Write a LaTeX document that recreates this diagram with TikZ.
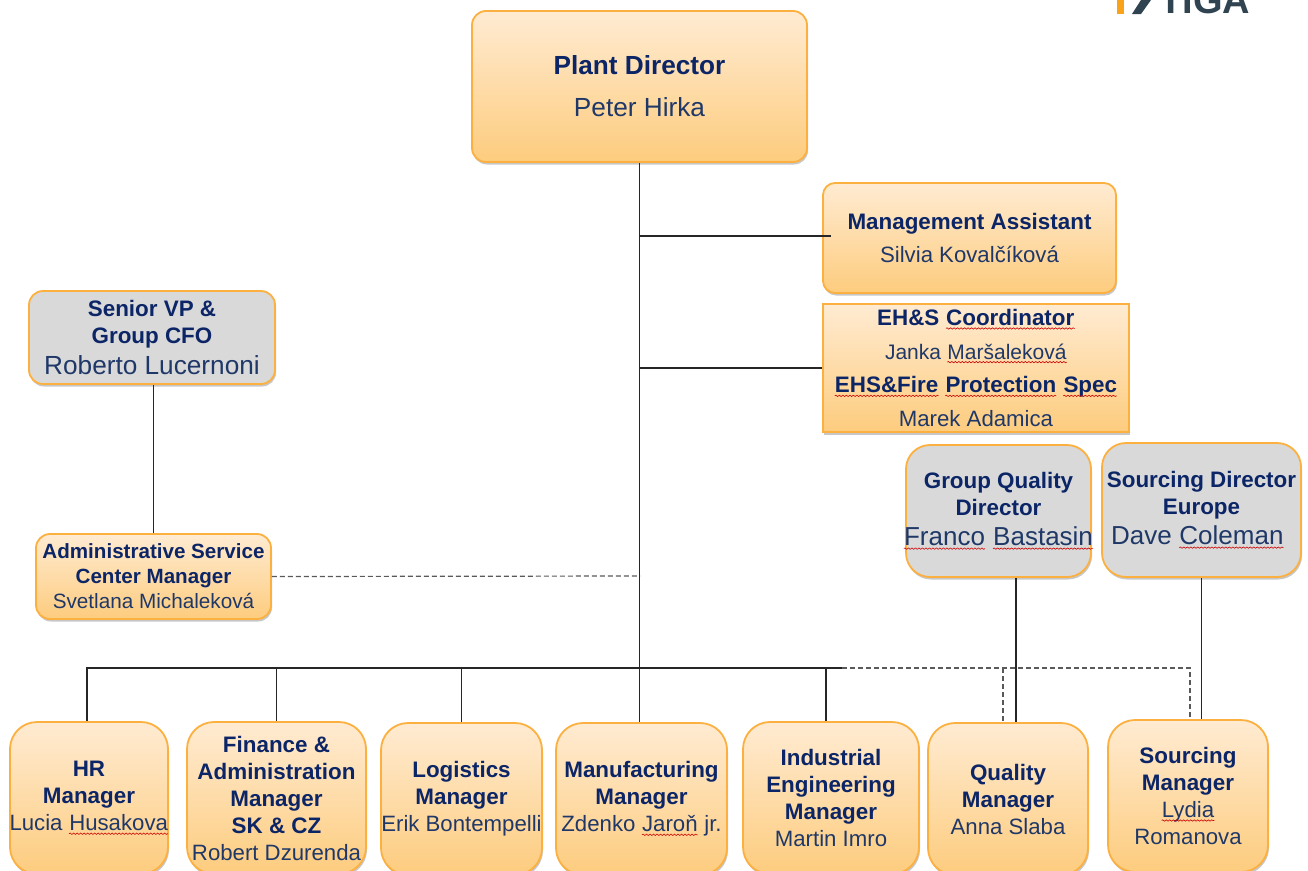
\documentclass[tikz,border=0pt]{standalone}
\usepackage{fontspec}
\setmainfont{Liberation Sans}
\usetikzlibrary{shadows, decorations.pathmorphing}
\definecolor{titlecol}{HTML}{0B2566}
\definecolor{namecol}{HTML}{1F3868}
\definecolor{edgecol}{HTML}{FBB040}
\definecolor{boxtop}{HTML}{FFEBD2}
\definecolor{boxbot}{HTML}{FDCC7E}
\definecolor{greycol}{HTML}{D9D9D9}
\definecolor{logocol}{HTML}{2F4350}
\definecolor{logoorange}{HTML}{F9A31A}
\tikzset{
  basebox/.style={draw=edgecol, line width=1.8pt, text=namecol, inner sep=0pt, align=center,
    drop shadow={shadow xshift=1pt, shadow yshift=-2.5pt, fill=black, opacity=0.22}},
  orangebox/.style={basebox, top color=boxtop, bottom color=boxbot},
  greybox/.style={basebox, fill=greycol},
  mgrbox/.style={orangebox, rounded corners=27pt, minimum height=152pt,
    font=\fontsize{22.4}{27}\selectfont},
  tie/.style={line width=1.2pt, black!85},
  dottie/.style={line width=1.2pt, black!65, dashed, dash pattern=on 5pt off 3pt}
}
\newcommand{\ttl}[1]{{\bfseries\color{titlecol}#1}}
\newcommand{\nm}[2][22.2]{{\fontsize{#1}{#1}\selectfont #2}}
\newcommand{\spell}[1]{\tikz[baseline=(w.base), sharp corners]{
  \node[inner sep=0pt, minimum width=0pt, minimum height=0pt] (w) {#1};
  \draw[red!80!black, line width=0.6pt, decorate, decoration={snake, amplitude=0.7pt, segment length=3.5pt}]
    ([yshift=-3pt]w.base west) -- ([yshift=-3pt]w.base east);}}

\begin{document}
\begin{tikzpicture}[x=1pt, y=-1pt]
  \useasboundingbox (0,0) rectangle (1308,870);
  \clip (0,0) rectangle (1308,870);

  % Logo in the corner, cut by the page edge
  \fill[logoorange] (1117,0) rectangle (1124,14);
  \fill[logocol] (1132,14) -- (1141,14) -- (1151,0) -- (1141,0) -- cycle;
  \node[anchor=base, inner sep=0pt, text=logocol] (logo) at (1205,13)
    {\fontsize{38}{38}\selectfont\bfseries TIGA};

  % Top of the chart
  \node[orangebox, rounded corners=14pt, minimum width=335pt, minimum height=151pt,
    font=\fontsize{26.2}{43}\selectfont] (plant) at (639.5,86.5)
    {\ttl{Plant Director}\\[-1pt]Peter Hirka};
  \node[orangebox, rounded corners=12pt, minimum width=293pt, minimum height=110pt,
    font=\fontsize{22.4}{33}\selectfont] (assist) at (969.5,238)
    {\ttl{Management Assistant}\\\nm{Silvia Kovalčíková}};
  \node[orangebox, minimum width=306pt, minimum height=128pt,
    font=\fontsize{22.4}{33.7}\selectfont] (ehs) at (976,368)
    {\ttl{EH\&S \spell{Coordinator}}\\\nm[21]{Janka \spell{Maršaleková}}\\
     \ttl{\spell{EHS\&Fire} \spell{Protection} \spell{Spec}}\\\nm{Marek Adamica}};

  % Left side
  \node[greybox, rounded corners=14pt, minimum width=246pt, minimum height=93pt,
    font=\fontsize{22.4}{27}\selectfont] (cfo) at (152,337.5)
    {\ttl{Senior VP \&}\\\ttl{Group CFO}\\[4pt]\nm[26.2]{Roberto Lucernoni}};
  \node[orangebox, rounded corners=14pt, minimum width=235pt, minimum height=85pt,
    font=\fontsize{20.6}{25}\selectfont] (admin) at (153.5,576.5)
    {\ttl{Administrative Service}\\\ttl{Center Manager}\\\nm[20.7]{Svetlana Michaleková}};

  % Directors on the right
  \node[greybox, rounded corners=24pt, minimum width=185pt, minimum height=132pt,
    font=\fontsize{22.4}{26.5}\selectfont] (quality dir) at (998.5,511)
    {\ttl{Group Quality}\\\ttl{Director}\\[4pt]\clap{\nm[26]{\spell{Franco} \spell{Bastasin}}}};
  \node[greybox, rounded corners=24pt, minimum width=199pt, minimum height=134pt,
    font=\fontsize{22.4}{26.5}\selectfont] (sourcing dir) at (1201.5,510)
    {\ttl{Sourcing Director}\\\ttl{Europe}\\[4pt]\hspace*{-8pt}\nm[26]{Dave \spell{Coleman}}};

  % Manager row, cut by the bottom edge
  \node[mgrbox, minimum width=158pt] (hr) at (89,798)
    {\ttl{HR}\\\ttl{Manager}\\\clap{\nm{Lucia \spell{Husakova}}}};
  \node[mgrbox, minimum width=179pt] (finance) at (276.5,798)
    {\ttl{Finance \&}\\\ttl{Administration}\\\ttl{Manager}\\\ttl{SK \& CZ}\\\nm{Robert Dzurenda}};
  \node[mgrbox, minimum width=161pt] (logistics) at (461.5,799)
    {\ttl{Logistics}\\\ttl{Manager}\\\clap{\nm{Erik Bontempelli}}};
  \node[mgrbox, minimum width=171pt] (manuf) at (641.5,799)
    {\ttl{Manufacturing}\\\ttl{Manager}\\\nm{Zdenko \spell{Jaroň} jr.}};
  \node[mgrbox, minimum width=176pt] (industrial) at (831,798)
    {\ttl{Industrial}\\\ttl{Engineering}\\\ttl{Manager}\\\nm{Martin Imro}};
  \node[mgrbox, minimum width=160pt] (quality) at (1008,799)
    {\ttl{Quality}\\\ttl{Manager}\\\nm{Anna Slaba}};
  \node[mgrbox, minimum width=160pt] (sourcing) at (1188,796)
    {\ttl{Sourcing}\\\ttl{Manager}\\\nm{\spell{Lydia}}\\\nm{Romanova}};

  % Junctions on the trunk
  \coordinate (assist tap) at (640,236);
  \coordinate (ehs tap) at (640,368);
  \coordinate (admin tap) at (640,576);
  \coordinate (bus) at (640,668);
  \coordinate (bus drop) at (826,668);
  \coordinate (bus end) at (842,668);
  \coordinate (assist end) at (831,236);
  \coordinate (dot corner) at (1190,668);
  \coordinate (dot quality) at (1003,668);

  % Solid reporting lines
  \draw[tie] (plant.south) -- (manuf.north -| plant.south);
  \draw[tie] (assist tap) -- (assist end);
  \draw[tie] (ehs tap) -- (ehs.west);
  \draw[tie] (admin.north |- cfo.south) -- (admin.north);
  \draw[tie] (bus) -| ([xshift=-2pt]hr.north);
  \draw[tie] (bus) -| (finance.north);
  \draw[tie] (bus) -| (logistics.north);
  \draw[tie] (bus) -- (bus end);
  \draw[tie] (bus drop) -- (bus drop |- industrial.north);
  \draw[tie] ([xshift=17.5pt]quality dir.south) -- ([xshift=8pt]quality.north);
  \draw[tie] (sourcing dir.south) -- (sourcing dir.south |- sourcing.north);

  % Dashed lines
  \draw[dottie] (admin.east) -- (admin tap);
  \draw[dottie] (bus end) -- (dot corner) -- (dot corner |- sourcing.north);
  \draw[dottie] (dot quality) -- (dot quality |- quality.north);
\end{tikzpicture}
\end{document}
